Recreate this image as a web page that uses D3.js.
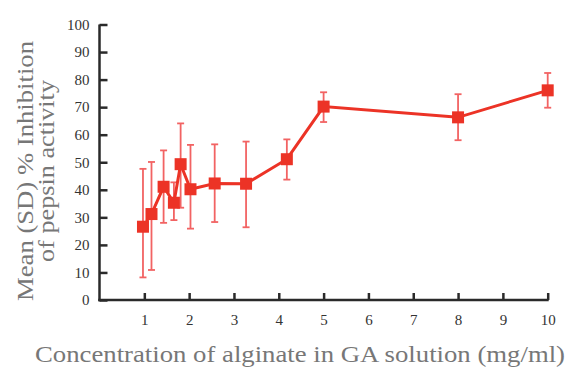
<!DOCTYPE html>
<html><head><meta charset="utf-8">
<script src="https://cdn.jsdelivr.net/npm/d3@7"></script>
<style>body{margin:0;background:#fff}svg{display:block}</style>
</head><body>
<script>
const conc = [0.97, 1.16, 1.43, 1.66, 1.81, 2.03, 2.57, 3.27, 4.18, 5, 8, 10];
const meanInhib = [26.6, 31.2, 41.1, 35.3, 49.3, 40.2, 42.3, 42.2, 51.1, 70.2, 66.3, 76.1];
const upperErr = [47.6, 50.1, 54.3, 42.7, 64.1, 56.3, 56.5, 57.5, 58.3, 75.4, 74.7, 82.4];
const lowerErr = [8.2, 10.9, 28.0, 29.0, 33.5, 25.9, 28.3, 26.4, 43.7, 64.6, 58.0, 69.8];
const xTicks = [1,2,3,4,5,6,7,8,9,10];
const yTicks = [0,10,20,30,40,50,60,70,80,90,100];
const xTitle = "Concentration of alginate in GA solution (mg/ml)";
const yTitle1 = "Mean (SD) % Inhibition";
const yTitle2 = "of pepsin activity";

const W=567,H=369;
const svg=d3.select("body").append("svg").attr("width",W).attr("height",H);
const x=d3.scaleLinear().domain([0,10]).range([99.5,547.7]);
const y=d3.scaleLinear().domain([0,100]).range([300,24.5]);
const font="Liberation Serif";
const red="#ec3326", errRed="#f26363";

// axes
const xa=svg.append("g").attr("transform","translate(0,300)")
  .call(d3.axisBottom(x).tickValues(xTicks).tickSize(-7).tickPadding(14).tickSizeOuter(0));
const ya=svg.append("g").attr("transform","translate(99.5,0)")
  .call(d3.axisLeft(y).tickValues(yTicks).tickSize(-8).tickPadding(10).tickSizeOuter(0));
[xa,ya].forEach(a=>{
  a.attr("font-family",font).attr("font-size",15);
  a.select(".domain").attr("stroke","#2a2a2a").attr("stroke-width",2.5);
  a.selectAll(".tick line").attr("stroke","#2a2a2a").attr("stroke-width",2.5);
  a.selectAll(".tick text").attr("fill","#333").attr("font-family",font).attr("font-size",15);
});
xa.select(".domain").attr("d",`M${x(0)-1.25},0H${x(10)+1}`);
ya.select(".domain").attr("d",`M0,${y(100)}V${y(0)+1.25}`);

// error bars
const data=conc.map((c,i)=>({c,m:meanInhib[i],u:upperErr[i],l:lowerErr[i]}));
const eb=svg.append("g").attr("stroke",errRed).attr("stroke-width",1.8).attr("fill","none");
data.forEach(d=>{
  eb.append("line").attr("x1",x(d.c)).attr("x2",x(d.c)).attr("y1",y(d.u)).attr("y2",y(d.l));
  eb.append("line").attr("x1",x(d.c)-3.5).attr("x2",x(d.c)+3.5).attr("y1",y(d.u)).attr("y2",y(d.u));
  eb.append("line").attr("x1",x(d.c)-3.5).attr("x2",x(d.c)+3.5).attr("y1",y(d.l)).attr("y2",y(d.l));
});

// line
svg.append("path").datum(data)
  .attr("d",d3.line().x(d=>x(d.c)).y(d=>y(d.m)))
  .attr("fill","none").attr("stroke",red).attr("stroke-width",3);

// markers
svg.append("g").selectAll("rect").data(data).join("rect")
  .attr("x",d=>x(d.c)-6).attr("y",d=>y(d.m)-6).attr("width",12).attr("height",12)
  .attr("fill",red);

// titles
svg.append("text").attr("x",35).attr("y",361.5)
  .attr("textLength",530).attr("lengthAdjust","spacingAndGlyphs")
  .attr("fill","#777").attr("font-family",font).attr("font-size",23).text(xTitle);
const yt=svg.append("g").attr("transform","translate(0,0) rotate(-90)")
  .attr("fill","#777").attr("font-family",font).attr("font-size",23);
yt.append("text").attr("x",-301).attr("y",33)
  .attr("textLength",260).attr("lengthAdjust","spacingAndGlyphs").text(yTitle1);
yt.append("text").attr("x",-262).attr("y",54)
  .attr("textLength",182).attr("lengthAdjust","spacingAndGlyphs").text(yTitle2);
</script>
</body></html>
